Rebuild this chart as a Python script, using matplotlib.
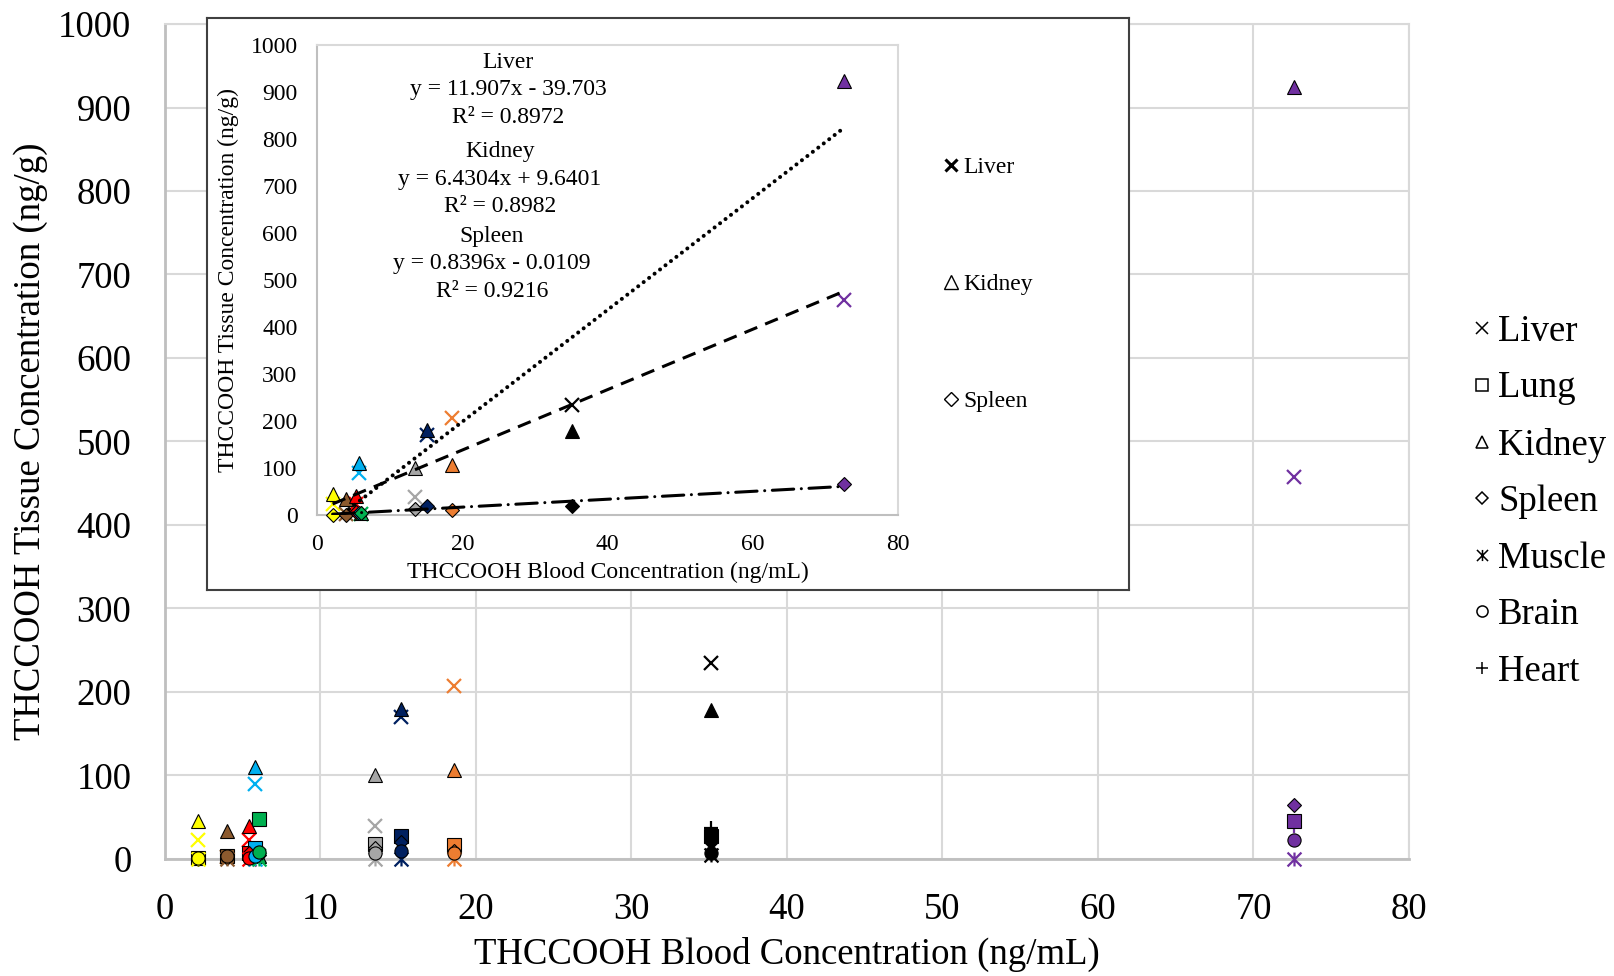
import numpy as np
import matplotlib
matplotlib.use("Agg")
import matplotlib.pyplot as plt
from matplotlib.lines import Line2D
from matplotlib.path import Path

plt.rcParams['font.family'] = ['Liberation Serif', 'DejaVu Serif']

# Blood THCCOOH per case (ng/mL) and the colour used for that case
blood = [2.15, 3.98, 5.43, 5.82, 6.08, 13.5, 15.2, 18.6, 35.1, 72.6]
case_colors = ['#FFFF00', '#8C5A2E', '#FF0000', '#00B0F0', '#00B050',
               '#A6A6A6', '#002060', '#ED7D31', '#000000', '#7030A0']

# Tissue THCCOOH per case (ng/g)
liver = [23, 2, 23, 90, 3, 39, 170, 207, 235, 458]
lung = [1, 3, 7, 13, 48, 18, 27, 17, 27, 45]
kidney = [45, 33, 40, 110, 4, 101, 180, 107, 179, 925]
spleen = [0, 1, 7, 4, 5, 13, 20, 10, 20, 65]
muscle = [0, 0, 0, 0, 0, 0, 0, 0, 5, 0]
brain = [1, 3, 1, 4, 8, 7, 10, 7, 7, 23]
heart = [1, 2, 4, 10, 7, 15, 20, 13, 37, 40]

# Trendline equations printed on the inset
fits = [("Liver", 11.907, -39.703, 0.8972),
        ("Kidney", 6.4304, 9.6401, 0.8982),
        ("Spleen", 0.8396, -0.0109, 0.9216)]

# asterisk marker: an x with a vertical bar through it
star = Path([(-0.5, -0.5), (0.5, 0.5), (-0.5, 0.5), (0.5, -0.5), (0, -0.5), (0, 0.5)],
            [Path.MOVETO, Path.LINETO, Path.MOVETO, Path.LINETO, Path.MOVETO, Path.LINETO])

organs = [("Heart", heart, '+', 10), ("Liver", liver, 'x', 9.5),
          ("Lung", lung, 's', 9.5), ("Kidney", kidney, '^', 10),
          ("Spleen", spleen, 'D', 7), ("Muscle", muscle, star, 10),
          ("Brain", brain, 'o', 9.5)]
line_markers = ['+', 'x', star]


def draw_points(ax, series):
    for name, vals, mk, ms in series:
        for xb, yv, c in zip(blood, vals, case_colors):
            if mk in line_markers:
                ax.plot(xb, yv, marker=mk, ms=ms, mec=c, mfc='none', mew=1.6,
                        linestyle='', clip_on=False, zorder=3)
            else:
                ax.plot(xb, yv, marker=mk, ms=ms, mfc=c, mec='black', mew=0.8,
                        linestyle='', clip_on=False, zorder=3)


fig = plt.figure(figsize=(16.15, 9.76), dpi=100)

# Main chart
ax = fig.add_axes([0.102, 0.1199, 0.7704, 0.8555])
draw_points(ax, organs)
ax.set_xlim(0, 80)
ax.set_ylim(0, 1000)
ax.set_xticks(np.arange(0, 81, 10))
ax.set_yticks(np.arange(0, 1001, 100))
ax.grid(True, color='#D9D9D9', linewidth=1.5)
ax.set_axisbelow(True)
for side in ['top', 'right']:
    ax.spines[side].set_color('#D9D9D9')
    ax.spines[side].set_linewidth(1.5)
for side in ['left', 'bottom']:
    ax.spines[side].set_color('#BFBFBF')
    ax.spines[side].set_linewidth(2)
ax.tick_params(length=0, labelsize=26.5, pad=24)
ax.set_xlabel("THCCOOH Blood Concentration (ng/mL)", fontsize=26.5, va='center')
ax.set_ylabel("THCCOOH Tissue Concentration (ng/g)", fontsize=26.5, va='center')
ax.xaxis.set_label_coords(0.5, -0.1138)
ax.yaxis.set_label_coords(-0.1076, 0.5)

legend_order = [("Liver", 'x'), ("Lung", 's'), ("Kidney", '^'), ("Spleen", 'D'),
                ("Muscle", star), ("Brain", 'o'), ("Heart", '+')]
handles = []
for name, mk in legend_order:
    ms = 6 if mk == 'D' else 8
    handles.append(Line2D([], [], marker=mk, linestyle='', ms=ms, mfc='none',
                          mec='black', mew=1.1))
fig.legend(handles, [n for n, _ in legend_order], loc='center left',
           bbox_to_anchor=(0.9118, 0.486), frameon=False, fontsize=26.5,
           handlelength=0.5, handletextpad=0.2, borderpad=0, borderaxespad=0,
           labelspacing=0.6)

# Inset box
frame = fig.add_axes([207 / 1615, 1 - 590 / 976, 922 / 1615, 572.5 / 976])
frame.set_xticks([])
frame.set_yticks([])
frame.set_facecolor('white')
for s in frame.spines.values():
    s.set_color('#404040')
    s.set_linewidth(1.5)

# Inset chart: liver, kidney, spleen with trendlines
ins = fig.add_axes([317 / 1615, 1 - 515 / 976, 581 / 1615, 469.7 / 976])
draw_points(ins, [o for o in organs if o[0] in ("Liver", "Kidney", "Spleen")])
xs = np.array([min(blood), max(blood)])
styles = [dict(linestyle=(0, (0.01, 1.7)), linewidth=2.9, dash_capstyle='round'),
          dict(linestyle=(0, (4.5, 2.8)), linewidth=2.2),
          dict(linestyle=(0, (7, 2.5, 0.01, 2.5)), linewidth=2.2, dash_capstyle='round')]
for (name, m, b, r2), st in zip(fits, styles):
    ins.plot(xs, m * xs + b, color='black', zorder=4, **st)
ins.set_xlim(0, 80)
ins.set_ylim(0, 1000)
ins.set_xticks(np.arange(0, 81, 20))
ins.set_yticks(np.arange(0, 1001, 100))
for side in ['top', 'right']:
    ins.spines[side].set_color('#D9D9D9')
    ins.spines[side].set_linewidth(1.5)
for side in ['left', 'bottom']:
    ins.spines[side].set_color('#BFBFBF')
    ins.spines[side].set_linewidth(1.5)
ins.tick_params(length=0, labelsize=17, pad=14)
ins.set_xlabel("THCCOOH Blood Concentration (ng/mL)", fontsize=17, va='center')
ins.set_ylabel("THCCOOH Tissue Concentration (ng/g)", fontsize=17, va='center')
ins.xaxis.set_label_coords(0.5, -0.1226)
ins.yaxis.set_label_coords(-0.152, 0.5)

eq_pos = [(508, 90), (500, 179), (492, 264)]
for (name, m, b, r2), (px, py) in zip(fits, eq_pos):
    sign = '-' if b < 0 else '+'
    txt = f"{name}\ny = {m}x {sign} {abs(b)}\nR² = {r2}"
    fig.text(px / 1615, 1 - py / 976, txt, fontsize=17, ha='center', va='center',
             multialignment='center', linespacing=1.38)

in_handles = [Line2D([], [], marker='x', linestyle='', ms=9, mec='black', mew=2.2),
              Line2D([], [], marker='^', linestyle='', ms=10, mfc='none', mec='black', mew=1.0),
              Line2D([], [], marker='D', linestyle='', ms=7, mfc='none', mec='black', mew=1.0)]
fig.legend(in_handles, ["Liver", "Kidney", "Spleen"], loc='center left',
           bbox_to_anchor=(942 / 1615, 1 - 284.5 / 976), frameon=False, fontsize=17,
           handlelength=0.8, handletextpad=0.1, borderpad=0, borderaxespad=0,
           labelspacing=4.05)

fig.savefig("out.png", dpi=100)
